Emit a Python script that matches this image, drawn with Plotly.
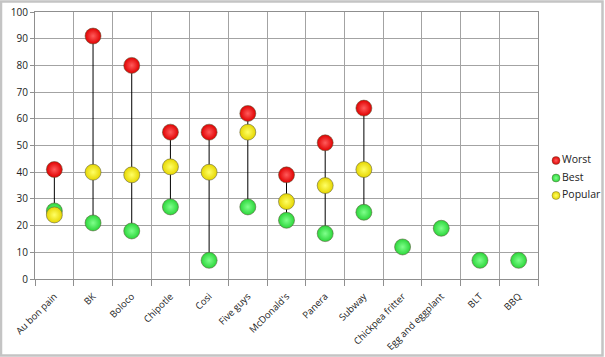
import plotly.graph_objects as go

categories = ["Au bon pain", "BK", "Boloco", "Chipotle", "Cosi", "Five guys",
              "McDonald's", "Panera", "Subway", "Chickpea fritter",
              "Egg and eggplant", "BLT", "BBQ"]
worst = [41, 91, 80, 55, 55, 62, 39, 51, 64, None, None, None, None]
best = [25.5, 21, 18, 27, 7, 27, 22, 17, 25, 12, 19, 7, 7]
popular = [24, 40, 39, 42, 40, 55, 29, 35, 41, None, None, None, None]
series_names = ["Worst", "Best", "Popular"]
y_ticks = list(range(0, 101, 10))

W, H = 605, 357
ML, MR, MT, MB = 35, 3, 12, 78
PLOT_R = 538          # right edge of the chart area (px)
PWF = W - ML - MR     # full paper width
PH = H - MT - MB

def px_x(p):  # pixel -> paper x
    return (p - ML) / PWF

def px_y(p):  # pixel -> paper y
    return (H - MB - p) / PH

xs = list(range(len(categories)))

# high-low lines
lx, ly = [], []
for i in xs:
    vals = [v for v in (worst[i], best[i], popular[i]) if v is not None]
    if len(vals) > 1:
        lx += [i, i, None]
        ly += [max(vals), min(vals), None]

fig = go.Figure()
fig.add_trace(go.Scatter(x=lx, y=ly, mode="lines", line=dict(color="black", width=1),
                         showlegend=False, hoverinfo="skip"))

styles = {
    "Worst": ("#e00000", "#ff5c5c"),
    "Best": ("#2bd63a", "#80ff8c"),
    "Popular": ("#e6d600", "#ffff66"),
}
for name, data in zip(series_names, (worst, best, popular)):
    edge, center = styles[name]
    fig.add_trace(go.Scatter(
        x=xs, y=data, mode="markers", name=name, showlegend=False,
        marker=dict(size=16, color=edge, gradient=dict(type="radial", color=center),
                    line=dict(color="rgba(90,90,60,0.7)", width=0.8))))

# legend drawn in its own small axes
for k, name in enumerate(series_names):
    edge, center = styles[name]
    fig.add_trace(go.Scatter(
        x=[8], y=[k], mode="markers+text", text=[name], textposition="middle right",
        textfont=dict(size=10.5, color="#222"), showlegend=False, hoverinfo="skip",
        xaxis="x3", yaxis="y3",
        marker=dict(size=8, color=edge, gradient=dict(type="radial", color=center),
                    line=dict(color="rgba(90,90,60,0.7)", width=0.6))))

n = len(categories)
fig.update_layout(
    width=W, height=H,
    margin=dict(l=ML, r=MR, t=MT, b=MB, autoexpand=False),
    paper_bgcolor="white", plot_bgcolor="white",
    showlegend=False,
    font=dict(family="Open Sans, DejaVu Sans, sans-serif", size=9.5, color="#222"),
    xaxis=dict(domain=[0, px_x(PLOT_R)], range=[-0.5, n - 0.5], tickmode="array",
               tickvals=xs, ticktext=categories,
               tickangle=-45, showgrid=False, ticks="", ticklabelstandoff=7,
               automargin=False,
               showline=True, linecolor="#8f8f8f", linewidth=1.2, mirror=True,
               zeroline=False,
               minor=dict(tickmode="array", tickvals=[i - 0.5 for i in range(n + 1)],
                          showgrid=True, gridcolor="#a3a3a3", gridwidth=1.2,
                          ticks="outside", ticklen=6, tickcolor="#8f8f8f", tickwidth=1.2)),
    yaxis=dict(range=[0, 100], tickmode="array", tickvals=y_ticks,
               showgrid=True, gridcolor="#a3a3a3", gridwidth=1.2, automargin=False,
               ticks="outside", ticklen=4, tickcolor="#8f8f8f",
               showline=True, linecolor="#8f8f8f", linewidth=1.2, mirror=True,
               zeroline=False, tickfont=dict(size=10)),
    xaxis3=dict(domain=[px_x(548), 1], range=[0, 54], visible=False, anchor="y3",
                fixedrange=True),
    yaxis3=dict(domain=[px_y(206), px_y(150)], range=[2.6, -0.6], visible=False,
                anchor="x3", fixedrange=True),
    shapes=[dict(type="rect", xref="paper", yref="paper",
                 x0=px_x(1), x1=px_x(602.5),
                 y0=px_y(355.5), y1=px_y(1.5),
                 line=dict(color="#c4c4c4", width=2.5), fillcolor="rgba(0,0,0,0)",
                 layer="below")],
)

fig.write_html("out.html", config={"displayModeBar": False},
               post_script="document.body.style.margin='0';")
